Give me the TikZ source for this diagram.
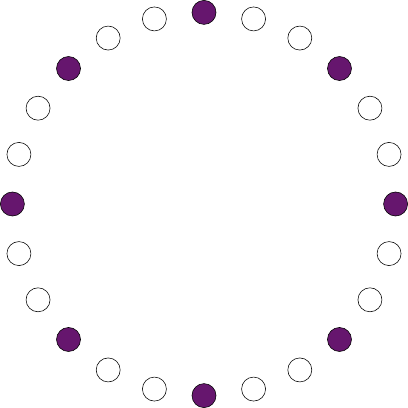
\documentclass[tikz,border=0pt]{standalone}
\usepackage{tikz}
\definecolor{plum}{RGB}{102,22,110}

\begin{document}
\begin{tikzpicture}[
    dot/.style={circle, draw=black, thin, fill=white,
      minimum size=.6cm, inner sep=0pt},
    marked/.style={dot, fill=plum},
  ]
    \useasboundingbox (-5.1,-5.1) rectangle (5.1,5.1);

    \foreach \i in {0,...,23} {
      \pgfmathtruncatemacro{\r}{mod(\i,3)}
      \ifnum\r=0
        \node[marked] (n\i) at (90-15*\i:4.79) {};
      \else
        \node[dot] (n\i) at (90-15*\i:4.79) {};
      \fi
    }
  \end{tikzpicture}
\end{document}
